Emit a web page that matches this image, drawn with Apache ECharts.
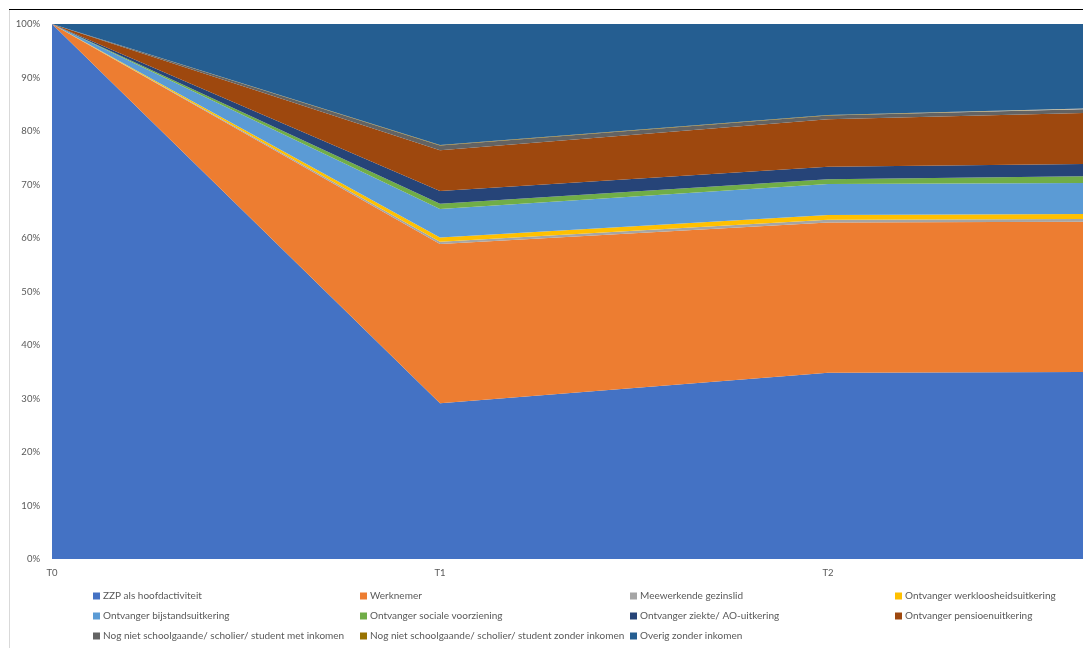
<!DOCTYPE html>
<html>
<head>
<meta charset="utf-8">
<script src="https://cdn.jsdelivr.net/npm/echarts@6/dist/echarts.min.js"></script>
<style>html,body{margin:0;padding:0;background:#fff;}#c{width:1083px;height:648px;}</style>
</head>
<body>
<div id="c"></div>
<script>
var categories = ['T0', 'T1', 'T2', 'T3'];
var yTicks = ['0%', '10%', '20%', '30%', '40%', '50%', '60%', '70%', '80%', '90%', '100%'];
var seriesNames = [
  'ZZP als hoofdactiviteit',
  'Werknemer',
  'Meewerkende gezinslid',
  'Ontvanger werkloosheidsuitkering',
  'Ontvanger bijstandsuitkering',
  'Ontvanger sociale voorziening',
  'Ontvanger ziekte/ AO-uitkering',
  'Ontvanger pensioenuitkering',
  'Nog niet schoolgaande/ scholier/ student met inkomen',
  'Nog niet schoolgaande/ scholier/ student zonder inkomen',
  'Overig zonder inkomen'
];
var zzp         = [100, 29.1, 34.8, 35.0];
var werknemer   = [0, 29.8, 28.1, 28.1];
var meewerkende = [0, 0.4, 0.5, 0.5];
var werkloos    = [0, 0.8, 0.9, 1.0];
var bijstand    = [0, 5.3, 5.8, 5.8];
var sociale     = [0, 1.0, 0.9, 1.4];
var ziekte      = [0, 2.4, 2.3, 2.3];
var pensioen    = [0, 7.6, 8.9, 9.9];
var scholierMet = [0, 0.9, 0.7, 0.7];
var scholierZonder = [0, 0.1, 0.1, 0.1];
var overig      = [0, 22.6, 17.0, 15.2];
var allData = [zzp, werknemer, meewerkende, werkloos, bijstand, sociale, ziekte, pensioen, scholierMet, scholierZonder, overig];
var colors = ['#4472C4', '#ED7D31', '#A5A5A5', '#FFC000', '#5B9BD5', '#70AD47', '#264478', '#9E480E', '#636363', '#997300', '#255E91'];

var chart = echarts.init(document.getElementById('c'), null, {renderer: 'canvas'});
var series = seriesNames.map(function (n, i) {
  return {
    name: n,
    type: 'line',
    stack: 'total',
    data: allData[i],
    symbol: 'none',
    lineStyle: {width: 0},
    areaStyle: {color: colors[i], opacity: 1},
    itemStyle: {color: colors[i]},
    emphasis: {disabled: true}
  };
});
var legendCols = [[0, 4, 8], [1, 5, 9], [2, 6, 10], [3, 7]];
var legendLefts = [93, 360, 630, 895];
var legends = legendCols.map(function (col, k) {
  return {
    orient: 'vertical',
    left: legendLefts[k],
    top: 590,
    itemWidth: 7,
    itemHeight: 7,
    itemGap: 8,
    icon: 'rect',
    selectedMode: false,
    padding: 0,
    data: col.map(function (i) { return seriesNames[i]; }),
    textStyle: {fontFamily: 'Lato', fontSize: 10, color: '#595959', lineHeight: 12, padding: [0, 0, 0, -2]}
  };
});
chart.setOption({
  animation: false,
  color: colors,
  grid: {left: 52, right: -133, top: 24, bottom: 89, containLabel: false, outerBoundsMode: 'none'},
  xAxis: {
    type: 'category',
    data: categories,
    boundaryGap: false,
    axisLine: {show: false},
    axisTick: {show: false},
    axisLabel: {color: '#595959', fontFamily: 'Lato', fontSize: 9.5, margin: 9}
  },
  yAxis: {
    type: 'value',
    min: 0,
    max: 100,
    interval: 10,
    splitLine: {show: false},
    axisLine: {show: false},
    axisTick: {show: false},
    axisLabel: {
      color: '#595959', fontFamily: 'Lato', fontSize: 9.5, margin: 12,
      formatter: function (v) { return yTicks[Math.round(v / 10)]; }
    }
  },
  legend: legends,
  graphic: [
    {type: 'rect', shape: {x: 9, y: 9, width: 1074, height: 1}, style: {fill: '#000'}, silent: true},
    {type: 'rect', shape: {x: 9, y: 10, width: 1, height: 638}, style: {fill: '#d9d9d9'}, silent: true}
  ],
  series: series
});
</script>
</body>
</html>
